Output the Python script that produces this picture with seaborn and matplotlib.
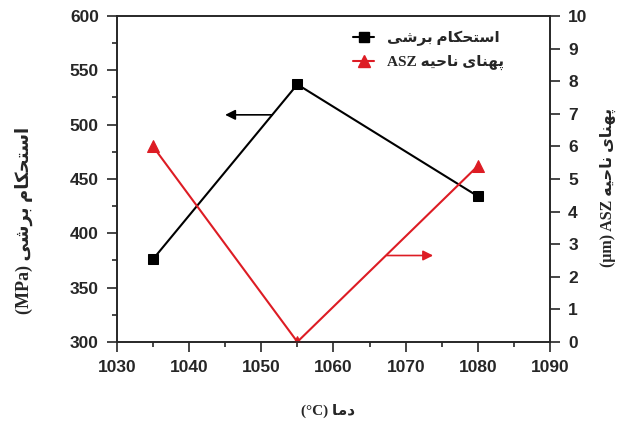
import numpy as np
import pandas as pd
import matplotlib.pyplot as plt
import seaborn as sns
from matplotlib.ticker import MultipleLocator
from matplotlib.lines import Line2D

# Data
temperature = [1035, 1055, 1080]          # دما (°C)
shear_strength = [376, 537, 434]          # استحکام برشی (MPa)
asz_width = [6.0, 0.0, 5.4]               # پهنای ناحیه ASZ (µm)

# Persian contextual forms: isolated, final, initial, medial
FORMS = {
    'ا': ('\uFE8D', '\uFE8E', None, None),
    'د': ('\uFEA9', '\uFEAA', None, None),
    'ر': ('\uFEAD', '\uFEAE', None, None),
    'س': ('\uFEB1', '\uFEB2', '\uFEB3', '\uFEB4'),
    'ش': ('\uFEB5', '\uFEB6', '\uFEB7', '\uFEB8'),
    'ت': ('\uFE95', '\uFE96', '\uFE97', '\uFE98'),
    'ح': ('\uFEA1', '\uFEA2', '\uFEA3', '\uFEA4'),
    'ک': ('\uFB8E', '\uFB8F', '\uFB90', '\uFB91'),
    'م': ('\uFEE1', '\uFEE2', '\uFEE3', '\uFEE4'),
    'ب': ('\uFE8F', '\uFE90', '\uFE91', '\uFE92'),
    'ی': ('\uFBFC', '\uFBFD', '\uFBFE', '\uFBFF'),
    'پ': ('\uFB56', '\uFB57', '\uFB58', '\uFB59'),
    'ه': ('\uFEE9', '\uFEEA', '\uFEEB', '\uFEEC'),
    'ن': ('\uFEE5', '\uFEE6', '\uFEE7', '\uFEE8'),
}


def fa(text):
    # join letters and put them in visual (left to right) order
    out = []
    for i, ch in enumerate(text):
        if ch not in FORMS:
            out.append(ch)
            continue
        prev = text[i - 1] if i > 0 else ''
        nxt = text[i + 1] if i + 1 < len(text) else ''
        iso, fin, ini, med = FORMS[ch]
        joins_prev = prev in FORMS and FORMS[prev][2] is not None
        joins_next = ini is not None and nxt in FORMS
        if joins_prev and joins_next:
            out.append(med)
        elif joins_prev:
            out.append(fin)
        elif joins_next:
            out.append(ini)
        else:
            out.append(iso)
    return ''.join(reversed(out))


shear_name = fa('استحکام برشی')
asz_name = 'ASZ ' + fa('پهنای ناحیه')
left_label = '(MPa) ' + shear_name
right_label = '(\u03bcm) ' + asz_name
x_label = '(\u00b0C) ' + fa('دما')

sns.set_style('ticks')
plt.rcParams['font.family'] = ['Liberation Sans', 'DejaVu Sans']
plt.rcParams['axes.linewidth'] = 1.2
serif_fa = ['Liberation Serif', 'DejaVu Sans']

df = pd.DataFrame({'temp': temperature, 'shear': shear_strength, 'asz': asz_width})
red = '#dd1c24'

fig, ax = plt.subplots(figsize=(6.28, 4.21), dpi=100)
fig.subplots_adjust(left=0.186, right=0.876, top=0.962, bottom=0.188)
ax2 = ax.twinx()

sns.lineplot(data=df, x='temp', y='shear', ax=ax, color='black', marker='s',
             markersize=7, markeredgecolor='black', linewidth=1.5)
sns.lineplot(data=df, x='temp', y='asz', ax=ax2, color=red, marker='^',
             markersize=8.5, markeredgecolor=red, linewidth=1.5)

ax.set_xlim(1030, 1090)
ax.set_ylim(300, 600)
ax2.set_ylim(0, 10)
ax.xaxis.set_major_locator(MultipleLocator(10))
ax.xaxis.set_minor_locator(MultipleLocator(5))
ax.yaxis.set_major_locator(MultipleLocator(50))
ax.yaxis.set_minor_locator(MultipleLocator(25))
ax2.yaxis.set_major_locator(MultipleLocator(1))

for a in (ax, ax2):
    a.tick_params(which='major', direction='out', length=7, width=1.2,
                  labelsize=12.5, pad=6)
    a.tick_params(which='minor', direction='out', length=3.5, width=1.2)
    for lab in a.get_xticklabels() + a.get_yticklabels():
        lab.set_fontweight('bold')
ax.tick_params(top=False, right=False)
for s in ax2.spines.values():
    s.set_linewidth(1.2)

ax.set_xlabel(x_label, family=serif_fa, weight='bold', size=11)
ax.set_ylabel(left_label, family=serif_fa, weight='bold', size=13, va='center')
ax2.set_ylabel(right_label, family=serif_fa, weight='bold', size=11.5,
               va='center', rotation=90)
ax.xaxis.set_label_coords(0.487, -0.19)
ax.yaxis.set_label_coords(-0.215, 0.374)
ax2.yaxis.set_label_coords(1.134, 0.475)

# arrows pointing each curve to its axis
ax.annotate('', xy=(1045.0, 509), xytext=(1051.5, 509),
            arrowprops=dict(arrowstyle='-|>', color='black', lw=1.2,
                            mutation_scale=15, shrinkA=0, shrinkB=0))
ax2.annotate('', xy=(1073.8, 2.65), xytext=(1067.4, 2.65),
             arrowprops=dict(arrowstyle='-|>', color=red, lw=1.2,
                             mutation_scale=15, shrinkA=0, shrinkB=0))

handles = [
    Line2D([], [], color='black', marker='s', markersize=7, linewidth=1.5),
    Line2D([], [], color=red, marker='^', markersize=8.5, linewidth=1.5),
]
ax.get_legend() and ax.get_legend().remove()
ax2.get_legend() and ax2.get_legend().remove()
ax2.legend(handles, [shear_name, asz_name], loc='upper left',
           bbox_to_anchor=(0.545, 0.955), frameon=False, borderpad=0,
           borderaxespad=0, handlelength=1.4, handletextpad=0.8,
           labelspacing=0.6, numpoints=1,
           prop=dict(family=serif_fa, weight='bold', size=11))

plt.savefig('out.png', dpi=100)
